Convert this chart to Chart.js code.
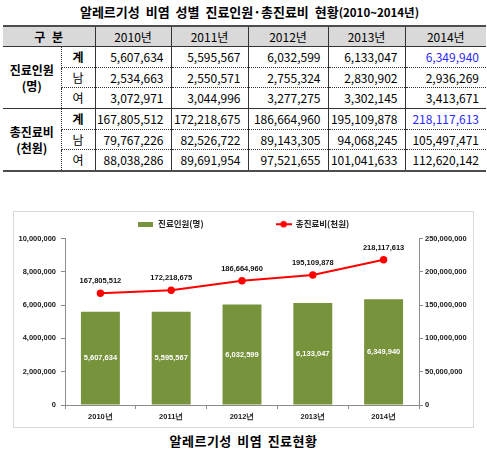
<!DOCTYPE html>
<html>
<head>
<meta charset="utf-8">
<script src="https://cdn.jsdelivr.net/npm/chart.js@4.4.0/dist/chart.umd.min.js"></script>
<style>
  body { margin: 0; background: #fff; width: 487px; height: 452px; position: relative;
         font-family: "Noto Sans CJK KR", sans-serif; color: #000; }
  #ttl { position: absolute; left: 0; top: 3px; width: 487px; padding-left: 12px; box-sizing: border-box;
         text-align: center; font-weight: bold; font-size: 13px; line-height: 18px; word-spacing: 3px; }
  #ttl span { font-size: 11.5px; word-spacing: 0; }
  table { position: absolute; left: 3px; top: 25px; width: 483px; border-collapse: collapse;
          table-layout: fixed; font-size: 12px; border-top: 2px solid #4d4d4d; border-bottom: 2px solid #4d4d4d; }
  th { background: #d9d9d9; font-weight: normal; height: 19px; padding: 0; border-bottom: 1px solid #333; line-height: 18px; }
  th.gb { font-weight: bold; word-spacing: 4px; }
  td { height: 19.7px; padding: 0; line-height: 18px; }
  td.num { text-align: right; padding-right: 7px; border-left: 1px solid #333; }
  td.sub { text-align: center; border-left: 1px dotted #333; }
  td.grp { text-align: center; font-weight: bold; line-height: 16px; }
  tr.dot td.num, tr.dot td.sub { border-top: 1px dotted #333; }
  tr.solid td { border-top: 1px solid #333; }
  td.b { font-weight: bold; }
  td.blue { color: #2a2aff; }
  th.yr { border-left: 1px solid #333; }
  #box { position: absolute; left: 13px; top: 211px; width: 461px; height: 217px;
         border: 1px solid #d9d9d9; box-sizing: border-box; }
  #cap { position: absolute; left: 0; top: 432px; width: 487px; text-align: center;
         font-weight: bold; font-size: 13px; line-height: 18px; letter-spacing: 0.5px; word-spacing: 2px; }
</style>
</head>
<body>
<div id="ttl">알레르기성 비염 성별 진료인원·총진료비 현황<span>(2010~2014년)</span></div>
<table id="tbl">
  <colgroup>
    <col style="width:58px"><col style="width:34px"><col style="width:76px"><col style="width:77px">
    <col style="width:80px"><col style="width:77px"><col style="width:81px">
  </colgroup>
</table>
<div id="box"><canvas id="chart"></canvas></div>
<div id="cap">알레르기성 비염 진료현황</div>

<script>
const years = ["2010년", "2011년", "2012년", "2013년", "2014년"];
const patients = [5607634, 5595567, 6032599, 6133047, 6349940];
const patientsMale = [2534663, 2550571, 2755324, 2830902, 2936269];
const patientsFemale = [3072971, 3044996, 3277275, 3302145, 3413671];
const costs = [167805512, 172218675, 186664960, 195109878, 218117613];
const costsMale = [79767226, 82526722, 89143305, 94068245, 105497471];
const costsFemale = [88038286, 89691954, 97521655, 101041633, 112620142];
const subLabels = ["계", "남", "여"];
const leftTicks = [0, 2000000, 4000000, 6000000, 8000000, 10000000];
const rightTicks = [0, 50000000, 100000000, 150000000, 200000000, 250000000];

const barColor = "#77933c";
const lineColor = "#ff0000";
const fmt = v => v.toLocaleString("en-US");

// table
const tbl = document.getElementById("tbl");
let html = '<tr><th class="gb" colspan="2">구 분</th>' + years.map(y => '<th class="yr">' + y + '</th>').join("") + '</tr>';
const groups = [
  { name: "진료인원<br>(명)", rows: [patients, patientsMale, patientsFemale] },
  { name: "총진료비<br>(천원)", rows: [costs, costsMale, costsFemale] }
];
groups.forEach((g, gi) => {
  g.rows.forEach((vals, ri) => {
    const cls = ri === 0 ? (gi === 0 ? "" : "solid") : "dot";
    html += '<tr class="' + cls + '">';
    if (ri === 0) html += '<td class="grp" rowspan="3">' + g.name + '</td>';
    html += '<td class="sub' + (ri === 0 ? ' b' : '') + '">' + subLabels[ri] + '</td>';
    vals.forEach((v, i) => {
      const blue = (ri === 0 && i === vals.length - 1) ? ' blue' : '';
      html += '<td class="num' + blue + '">' + fmt(v) + '</td>';
    });
    html += '</tr>';
  });
});
tbl.insertAdjacentHTML("beforeend", html);

// legend swatches
function barSwatch() {
  const c = document.createElement("canvas");
  c.width = 15; c.height = 5;
  const x = c.getContext("2d");
  x.fillStyle = barColor; x.fillRect(0, 0, 15, 5);
  return c;
}
function lineSwatch() {
  const c = document.createElement("canvas");
  c.width = 16; c.height = 8;
  const x = c.getContext("2d");
  x.strokeStyle = lineColor; x.lineWidth = 2;
  x.beginPath(); x.moveTo(0, 4); x.lineTo(16, 4); x.stroke();
  x.fillStyle = lineColor; x.beginPath(); x.arc(8, 4, 3.2, 0, Math.PI * 2); x.fill();
  return c;
}
const swatches = [barSwatch(), lineSwatch()];

const tickFont = { family: "Liberation Sans, Arial, sans-serif", size: 7.5, weight: "bold" };

const valueLabels = {
  id: "valueLabels",
  afterDatasetsDraw(chart) {
    const ctx = chart.ctx;
    ctx.save();
    ctx.font = "bold 7.5px 'Liberation Sans', Arial, sans-serif";
    ctx.textAlign = "center";
    ctx.textBaseline = "middle";
    chart.getDatasetMeta(0).data.forEach((el, i) => {
      ctx.fillStyle = "#ffffff";
      ctx.fillText(fmt(patients[i]), el.x, (el.y + el.base) / 2);
    });
    chart.getDatasetMeta(1).data.forEach((el, i) => {
      ctx.fillStyle = "#111111";
      ctx.fillText(fmt(costs[i]), el.x, el.y - 12);
    });
    ctx.restore();
  }
};

new Chart(document.getElementById("chart"), {
  type: "bar",
  data: {
    labels: years,
    datasets: [
      {
        label: "진료인원(명)",
        data: patients,
        backgroundColor: barColor,
        barPercentage: 0.55,
        categoryPercentage: 1,
        yAxisID: "y",
        order: 1
      },
      {
        type: "line",
        label: "총진료비(천원)",
        data: costs,
        borderColor: lineColor,
        backgroundColor: lineColor,
        borderWidth: 2,
        pointRadius: 3.7,
        pointBackgroundColor: lineColor,
        pointBorderWidth: 0,
        yAxisID: "y1",
        order: 0
      }
    ]
  },
  options: {
    responsive: true,
    maintainAspectRatio: false,
    animation: false,
    layout: { padding: { top: 4, left: 0, right: 0, bottom: 0 } },
    plugins: {
      tooltip: { enabled: false },
      legend: {
        position: "top",
        labels: {
          usePointStyle: true,
          pointStyleWidth: 16,
          padding: 4,
          color: "#222222",
          font: { family: "Noto Sans CJK KR", size: 8.5, weight: "bold" },
          generateLabels(chart) {
            const items = Chart.defaults.plugins.legend.labels.generateLabels(chart);
            items.sort((a, b) => a.datasetIndex - b.datasetIndex);
            items.forEach(it => {
              it.pointStyle = swatches[it.datasetIndex];
              if (it.datasetIndex === 0) it.text += "\u2003".repeat(8);
            });
            return items;
          }
        }
      }
    },
    scales: {
      x: {
        grid: { drawOnChartArea: false, drawTicks: true, tickLength: 4, color: "#8c8c8c", offset: true },
        border: { color: "#8c8c8c" },
        ticks: { color: "#1a1a1a", font: tickFont, padding: 3 },
        afterFit(axis) { axis.height = 22; }
      },
      y: {
        position: "left",
        min: 0, max: 10000000,
        afterBuildTicks(axis) { axis.ticks = leftTicks.map(v => ({ value: v })); },
        grid: { drawOnChartArea: false, tickLength: 4, color: "#8c8c8c" },
        border: { color: "#8c8c8c" },
        ticks: { color: "#1a1a1a", font: tickFont, padding: 5, callback: v => fmt(v) },
        afterFit(axis) { axis.width = 51; }
      },
      y1: {
        position: "right",
        min: 0, max: 250000000,
        afterBuildTicks(axis) { axis.ticks = rightTicks.map(v => ({ value: v })); },
        grid: { drawOnChartArea: false, tickLength: 4, color: "#8c8c8c" },
        border: { color: "#8c8c8c" },
        ticks: { color: "#1a1a1a", font: tickFont, padding: 2, callback: v => fmt(v) },
        afterFit(axis) { axis.width = 54; }
      }
    }
  },
  plugins: [valueLabels]
});
</script>
</body>
</html>
